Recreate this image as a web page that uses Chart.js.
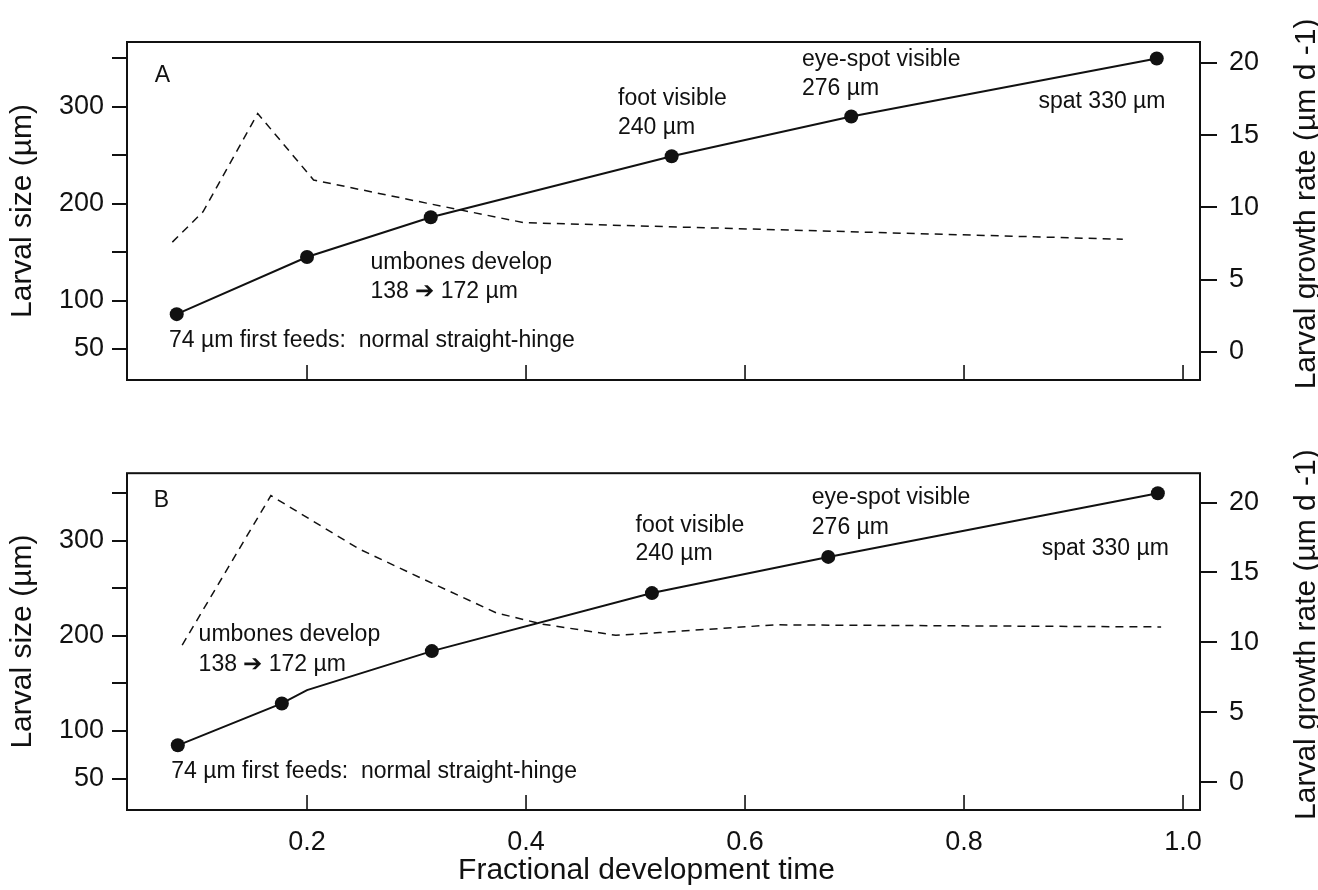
<!DOCTYPE html>
<html>
<head>
<meta charset="utf-8">
<title>Larval size and growth rate</title>
<script src="https://cdn.jsdelivr.net/npm/chart.js@4.4.0/dist/chart.umd.min.js"></script>
<style>
  html, body { margin: 0; padding: 0; background: #fff; }
  .panel { position: absolute; left: 0; width: 1318px; height: 445px; }
  #panelA { top: 0; }
  #panelB { top: 445px; }
</style>
</head>
<body>
<div class="panel" id="panelA"><canvas id="chartA"></canvas></div>
<div class="panel" id="panelB"><canvas id="chartB"></canvas></div>
<script>
// ---- values ----
// panel A : larval size (left axis) at each stage
const timeSizeA = [0.081, 0.200, 0.313, 0.533, 0.697, 0.976];
const sizeA     = [86, 145, 186, 249, 290, 350];
// panel A : growth rate (right axis, dashed)
const timeRateA = [0.077, 0.105, 0.155, 0.206, 0.309, 0.398, 0.514, 0.945];
const rateA     = [7.6, 9.7, 16.5, 11.9, 10.3, 8.95, 8.7, 7.8];

// panel B
const timeSizeB = [0.082, 0.177, 0.200, 0.314, 0.515, 0.676, 0.977];
const sizeB     = [85, 129, 143, 184, 245, 283, 350];
const stageB    = [true, true, false, true, true, true, true]; // false = bend in line, no dot
const timeRateB = [0.086, 0.167, 0.247, 0.304, 0.373, 0.415, 0.482, 0.522, 0.627, 0.980];
const rateB     = [9.8, 20.5, 16.7, 14.6, 12.1, 11.3, 10.5, 10.7, 11.25, 11.1];

// axis ticks
const xTicks     = [0.2, 0.4, 0.6, 0.8, 1.0];
const sizeTicks  = [50, 100, 150, 200, 250, 300, 350];
const sizeLabels = [50, 100, 200, 300];
const rateTicks  = [0, 5, 10, 15, 20];

// stage notes (x = time, y = size)
const notesA = [
  { text: "A", x: 0.061, y: 332 },
  { text: "umbones develop", x: 0.258, y: 139 },
  { text: "138 \u2794 172 \u00b5m", x: 0.258, y: 109 },
  { text: "74 \u00b5m first feeds:  normal straight-hinge", x: 0.074, y: 59 },
  { text: "foot visible", x: 0.484, y: 309 },
  { text: "240 \u00b5m", x: 0.484, y: 279 },
  { text: "eye-spot visible", x: 0.652, y: 349 },
  { text: "276 \u00b5m", x: 0.652, y: 319 },
  { text: "spat 330 \u00b5m", x: 0.868, y: 305 },
];
const notesB = [
  { text: "B", x: 0.060, y: 342 },
  { text: "umbones develop", x: 0.101, y: 201 },
  { text: "138 \u2794 172 \u00b5m", x: 0.101, y: 170 },
  { text: "74 \u00b5m first feeds:  normal straight-hinge", x: 0.076, y: 57 },
  { text: "foot visible", x: 0.500, y: 316 },
  { text: "240 \u00b5m", x: 0.500, y: 286 },
  { text: "eye-spot visible", x: 0.661, y: 345 },
  { text: "276 \u00b5m", x: 0.661, y: 314 },
  { text: "spat 330 \u00b5m", x: 0.871, y: 292 },
];

const INK = "#111111";
const FONT = "'Liberation Sans', Arial, Helvetica, sans-serif";
const RIGHT_TITLE = "Larval growth rate (\u00b5m d -1)";
const X_TITLE = "Fractional development time";

Chart.defaults.font.family = FONT;
Chart.defaults.color = INK;

const toPoints = (xs, ys) => xs.map((x, i) => ({ x: x, y: ys[i] }));

// frame, inward x ticks, stage notes and the titles Chart.js can't place as drawn
const panelDecor = {
  id: "panelDecor",
  afterDraw(chart, args, opts) {
    const { ctx, chartArea: a, scales } = chart;
    ctx.save();
    ctx.strokeStyle = INK;
    ctx.lineWidth = 2;
    ctx.strokeRect(a.left, a.top, a.right - a.left, a.bottom - a.top);

    ctx.lineWidth = 1.6;
    xTicks.forEach((v) => {
      const px = scales.x.getPixelForValue(v);
      ctx.beginPath();
      ctx.moveTo(px, a.bottom);
      ctx.lineTo(px, a.bottom - 15);
      ctx.stroke();
    });

    ctx.fillStyle = INK;
    ctx.font = "23px " + FONT;
    ctx.textAlign = "left";
    ctx.textBaseline = "middle";
    opts.notes.forEach((n) => {
      ctx.fillText(n.text, scales.x.getPixelForValue(n.x), scales.y.getPixelForValue(n.y));
    });

    // x title sits a little left of centre in the original
    if (opts.xTitle) {
      ctx.textAlign = "center";
      ctx.font = "30px " + FONT;
      ctx.fillText(X_TITLE, (a.left + a.right) / 2 - 17, chart.height - 19);
    }

    // right title reads bottom-to-top, like the left one
    ctx.translate(chart.width - 11, (a.top + a.bottom) / 2 - 7);
    ctx.rotate(-Math.PI / 2);
    ctx.textAlign = "center";
    ctx.font = "30px " + FONT;
    ctx.fillText(RIGHT_TITLE, 0, 0);
    ctx.restore();
  },
};

function makePanel(canvasId, cfg) {
  return new Chart(document.getElementById(canvasId), {
    type: "line",
    data: {
      datasets: [
        {
          label: "Larval size",
          data: toPoints(cfg.timeSize, cfg.size),
          yAxisID: "y",
          borderColor: INK,
          borderWidth: 2,
          pointBackgroundColor: INK,
          pointBorderWidth: 0,
          pointRadius: (c) => (cfg.stage && !cfg.stage[c.dataIndex] ? 0 : 7),
          tension: 0,
        },
        {
          label: "Growth rate",
          data: toPoints(cfg.timeRate, cfg.rate),
          yAxisID: "y1",
          borderColor: INK,
          borderWidth: 1.5,
          borderDash: [8, 6],
          pointRadius: 0,
          tension: 0,
        },
      ],
    },
    options: {
      responsive: true,
      maintainAspectRatio: false,
      animation: false,
      devicePixelRatio: 1,
      layout: { padding: { top: cfg.padTop, left: 0, right: 0, bottom: 0 } },
      plugins: {
        legend: { display: false },
        tooltip: { enabled: false },
        panelDecor: { notes: cfg.notes, xTitle: cfg.showX },
      },
      scales: {
        x: {
          type: "linear",
          min: 0.0356,
          max: 1.0155,
          afterBuildTicks: (s) => { s.ticks = xTicks.map((v) => ({ value: v })); },
          afterFit: (s) => { s.height = cfg.xHeight; },
          grid: { display: false },
          border: { display: false },
          ticks: {
            display: cfg.showX,
            padding: 8,
            font: { size: 27 },
            color: INK,
            maxRotation: 0,
            callback: (v) => Number(v).toFixed(1),
          },
        },
        y: {
          position: "left",
          min: cfg.yMin,
          max: cfg.yMax,
          afterBuildTicks: (s) => { s.ticks = sizeTicks.map((v) => ({ value: v })); },
          afterFit: (s) => { s.width = 127; },
          grid: { drawOnChartArea: false, drawTicks: true, tickLength: 15, color: INK, lineWidth: 2 },
          border: { display: false },
          ticks: {
            padding: 8,
            font: { size: 27 },
            color: INK,
            callback: (v) => (sizeLabels.includes(v) ? String(v) : ""),
          },
          title: {
            display: true,
            text: "Larval size (\u00b5m)",
            font: { size: 30 },
            color: INK,
            padding: { top: 5, bottom: 0 },
          },
        },
        y1: {
          position: "right",
          min: cfg.rMin,
          max: cfg.rMax,
          afterBuildTicks: (s) => { s.ticks = rateTicks.map((v) => ({ value: v })); },
          afterFit: (s) => { s.width = 118; },
          grid: { drawOnChartArea: false, drawTicks: true, tickLength: 17, color: INK, lineWidth: 2 },
          border: { display: false },
          ticks: { padding: 12, font: { size: 27 }, color: INK },
        },
      },
    },
    plugins: [panelDecor],
  });
}

makePanel("chartA", {
  timeSize: timeSizeA, size: sizeA, timeRate: timeRateA, rate: rateA,
  notes: notesA, padTop: 42, xHeight: 65, showX: false,
  yMin: 18, yMax: 367, rMin: -1.94, rMax: 21.45,
});

makePanel("chartB", {
  timeSize: timeSizeB, size: sizeB, stage: stageB, timeRate: timeRateB, rate: rateB,
  notes: notesB, padTop: 25, xHeight: 80, showX: true,
  yMin: 17, yMax: 371, rMin: -2.0, rMax: 22.1,
});
</script>
</body>
</html>
